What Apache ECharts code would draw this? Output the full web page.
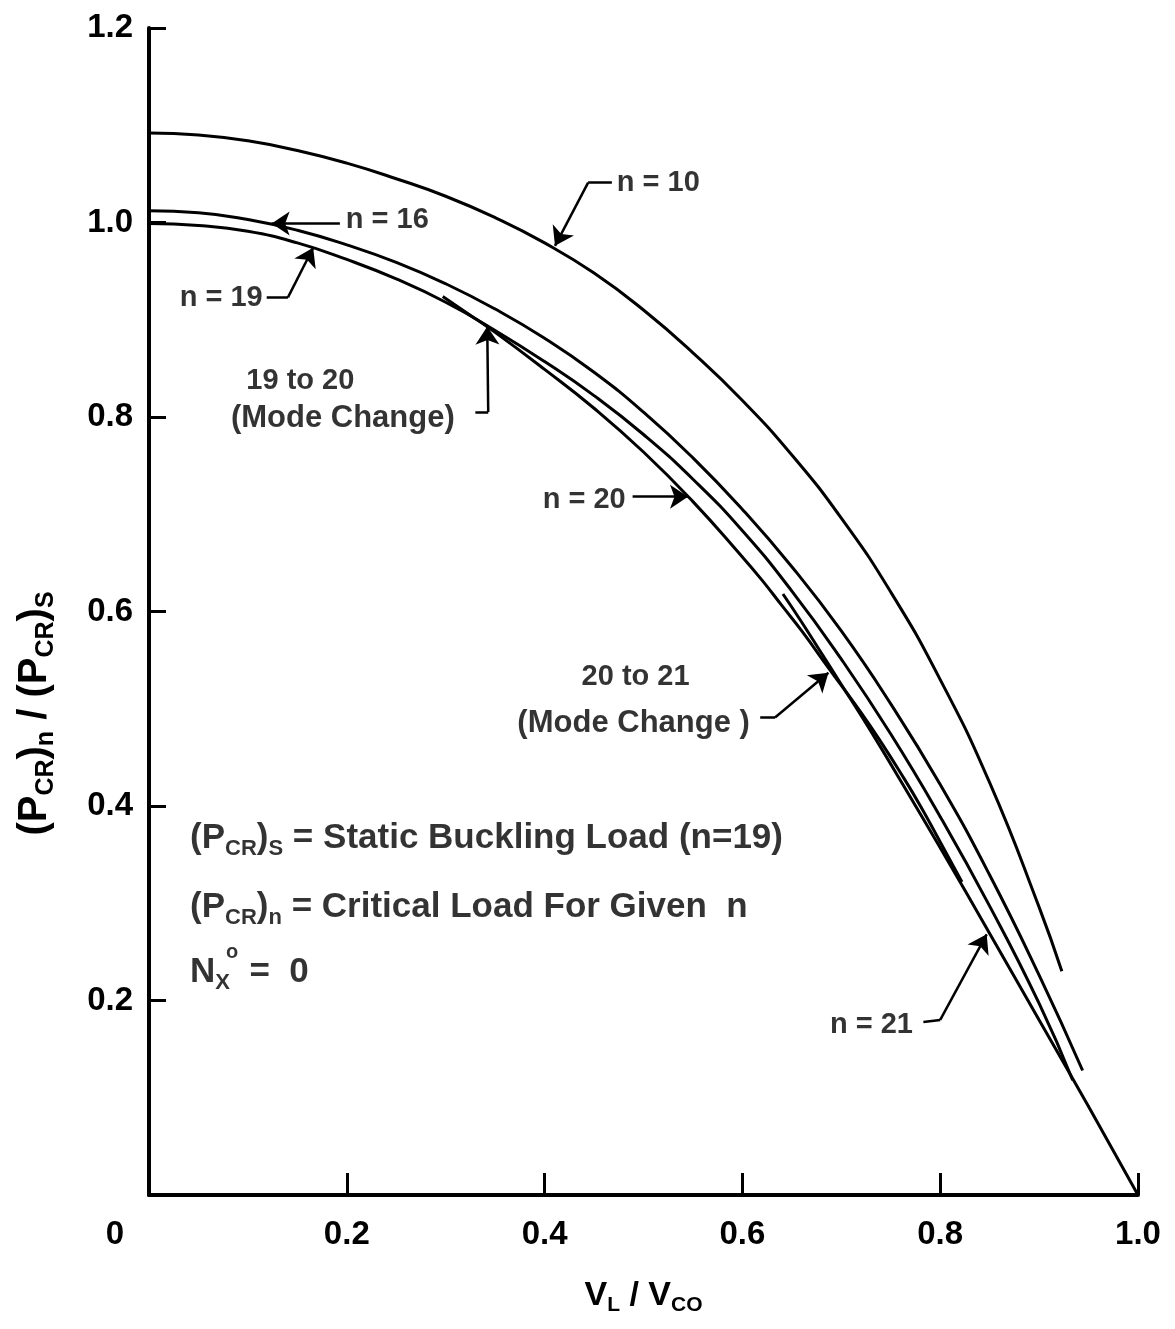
<!DOCTYPE html>
<html><head><meta charset="utf-8">
<script src="https://cdn.jsdelivr.net/npm/echarts@6/dist/echarts.min.js"></script>
<style>html,body{margin:0;padding:0;background:#fff}#c{width:1175px;height:1329px}</style>
</head><body><div id="c"></div>
<script>
// ---- data ----
const xN10 = [0,0.05,0.10,0.15,0.20,0.25,0.30,0.35,0.40,0.45,0.50,0.55,0.60,0.65,0.70,0.75,0.80,0.85,0.90,0.923];
const yN10 = [1.092,1.090,1.084,1.074,1.061,1.045,1.027,1.005,0.979,0.948,0.910,0.866,0.817,0.761,0.696,0.620,0.530,0.424,0.296,0.230];

const xN16 = [0,0.05,0.10,0.15,0.20,0.25,0.30,0.35,0.40,0.45,0.50,0.55,0.60,0.65,0.70,0.75,0.80,0.85,0.90,0.944];
const yN16 = [1.012,1.010,1.003,0.992,0.977,0.959,0.937,0.911,0.881,0.846,0.805,0.758,0.705,0.646,0.580,0.505,0.422,0.329,0.226,0.128];

const xN19 = [0,0.05,0.10,0.15,0.20,0.25,0.30,0.35,0.40,0.45,0.50,0.55,0.60,0.65,0.70,0.75,0.80,0.85,0.90,0.934];
const yN19 = [0.999,0.997,0.991,0.979,0.962,0.942,0.918,0.889,0.857,0.822,0.782,0.736,0.683,0.621,0.551,0.474,0.389,0.297,0.197,0.118];

const xN20 = [0.297,0.32,0.35,0.40,0.45,0.50,0.55,0.60,0.62,0.64,0.66,0.687,0.70,0.72,0.74,0.76,0.78,0.80,0.822];
const yN20 = [0.924,0.908,0.887,0.849,0.809,0.764,0.713,0.656,0.632,0.606,0.580,0.542,0.524,0.496,0.466,0.434,0.400,0.363,0.322];

const xN21 = [0.641,0.66,0.68,0.70,0.72,0.74,0.76,0.80,0.85,0.90,0.95,1.0];
const yN21 = [0.618,0.589,0.557,0.525,0.493,0.460,0.426,0.357,0.269,0.180,0.091,0.0];

const xTicks = [0, 0.2, 0.4, 0.6, 0.8, 1.0];
const yTicks = [0, 0.2, 0.4, 0.6, 0.8, 1.0, 1.2];

// annotation leaders (plain) and arrows (with head), in data units
const leaderSegs = [
  [[0.468,1.041],[0.444,1.041]],
  [[0.119,0.923],[0.1405,0.923]],
  [[0.330,0.805],[0.343,0.805]],
  [[0.618,0.491],[0.633,0.491]],
  [[0.783,0.178],[0.800,0.180]]
];
const arrowSegs = [
  [[0.444,1.041],[0.4105,0.976]],
  [[0.193,0.999],[0.124,0.999]],
  [[0.1405,0.923],[0.166,0.974]],
  [[0.343,0.805],[0.342,0.893]],
  [[0.489,0.718],[0.545,0.718]],
  [[0.633,0.491],[0.687,0.537]],
  [[0.800,0.180],[0.847,0.268]]
];

const annoText  = ['n = 10','n = 16','n = 19','19 to 20','(Mode Change)','n = 20','20 to 21','(Mode Change )','n = 21'];
const annoX     = [0.473, 0.199, 0.115, 0.153, 0.196, 0.482, 0.492, 0.490, 0.7725];
const annoY     = [1.041, 1.003, 0.922, 0.837, 0.799, 0.715, 0.533, 0.485, 0.175];
const annoAlign = ['left','left','right','center','center','right','center','center','right'];
const annoSize  = [29, 29, 29, 29, 31, 29, 29, 31, 29];

const noteText = ['(P{s|CR}){s|S} = Static Buckling Load (n=19)',
                  '(P{s|CR}){s|n} = Critical Load For Given  n',
                  'N{s|X}  =  0'];
const noteX = [0.0415, 0.0415, 0.0415];
const noteY = [0.367, 0.296, 0.229];
const supText = ['o'];
const supX = [0.084];
const supY = [0.249];

// ---- chart ----
const FONT = '"Liberation Sans", Arial, sans-serif';
const pairs = (xs, ys) => xs.map((v, i) => [v, ys[i]]);
const curve = (name, xs, ys) => ({
  name, type: 'line', data: pairs(xs, ys), symbol: 'none', smooth: 0.5,
  clip: false, lineStyle: {color: '#000', width: 3}, silent: true, z: 3
});
const SUB = {fontSize: 22, fontWeight: 'bold', fontFamily: FONT, color: '#000', padding: [22, 0, 0, 0]};

const chart = echarts.init(document.getElementById('c'), null, {renderer: 'canvas'});
chart.setOption({
  animation: false,
  backgroundColor: '#fff',
  grid: {left: 149, right: 37, top: 28, bottom: 134, containLabel: false},
  xAxis: {
    type: 'value', min: 0, max: 1.0, interval: 0.2,
    name: 'V{s|L} / V{s|CO}', nameLocation: 'middle', nameGap: 80,
    nameTextStyle: {fontSize: 34, fontWeight: 'bold', fontFamily: FONT, color: '#000',
      rich: {s: {fontSize: 21, fontWeight: 'bold', fontFamily: FONT, color: '#000', padding: [20, 0, 0, 0]}}},
    axisLine: {lineStyle: {color: '#000', width: 4}},
    axisTick: {inside: true, length: 22, lineStyle: {color: '#000', width: 3}},
    splitLine: {show: false},
    axisLabel: {
      fontSize: 33, fontWeight: 'bold', fontFamily: FONT, color: '#000', margin: 23,
      formatter: v => v === 0 ? '{z|0}' : v.toFixed(1),
      rich: {z: {fontSize: 33, fontWeight: 'bold', fontFamily: FONT, color: '#000', padding: [0, 68, 0, 0]}}
    }
  },
  yAxis: {
    type: 'value', min: 0, max: 1.2, interval: 0.2,
    name: '(P{s|CR}){s|n} / (P{s|CR}){s|S}', nameLocation: 'middle', nameGap: 90,
    nameTextStyle: {fontSize: 40, fontWeight: 'bold', fontFamily: FONT, color: '#000',
      padding: [0, 204, 0, 0],
      rich: {s: {fontSize: 25, fontWeight: 'bold', fontFamily: FONT, color: '#000', padding: [24, 0, 0, 0]}}},
    axisLine: {lineStyle: {color: '#000', width: 4}},
    axisTick: {inside: true, length: 17, lineStyle: {color: '#000', width: 3}},
    splitLine: {show: false},
    axisLabel: {
      fontSize: 33, fontWeight: 'bold', fontFamily: FONT, color: '#000', margin: 16,
      formatter: v => v === 0 ? '' : v.toFixed(1)
    }
  },
  series: [
    curve('n=10', xN10, yN10),
    curve('n=16', xN16, yN16),
    curve('n=19', xN19, yN19),
    curve('n=20', xN20, yN20),
    curve('n=21', xN21, yN21),
    {
      type: 'lines', coordinateSystem: 'cartesian2d', polyline: false, silent: true, z: 4,
      symbol: ['none', 'none'],
      lineStyle: {color: '#000', width: 2.5, opacity: 1, curveness: 0},
      data: leaderSegs.map(s => ({coords: s}))
    },
    {
      type: 'lines', coordinateSystem: 'cartesian2d', polyline: false, silent: true, z: 4,
      symbol: ['none', 'arrow'], symbolSize: 18,
      lineStyle: {color: '#000', width: 2.5, opacity: 1, curveness: 0},
      itemStyle: {color: '#000'},
      data: arrowSegs.map(s => ({coords: s}))
    },
    {
      type: 'scatter', symbolSize: 0, silent: true, clip: false, z: 5,
      label: {show: true, position: 'inside', color: '#000', fontWeight: 'bold', fontFamily: FONT, verticalAlign: 'middle'},
      data: annoText.map((t, i) => ({
        value: [annoX[i], annoY[i]],
        label: {formatter: t, align: annoAlign[i], fontSize: annoSize[i]}
      }))
    },
    {
      type: 'scatter', symbolSize: 0, silent: true, clip: false, z: 5,
      label: {show: true, position: 'inside', color: '#000', fontWeight: 'bold', fontFamily: FONT,
        fontSize: 35, align: 'left', verticalAlign: 'middle', rich: {s: SUB}},
      data: noteText.map((t, i) => ({value: [noteX[i], noteY[i]], label: {formatter: t}}))
    },
    {
      type: 'scatter', symbolSize: 0, silent: true, clip: false, z: 5,
      label: {show: true, position: 'inside', color: '#000', fontWeight: 'bold', fontFamily: FONT,
        fontSize: 20, align: 'center', verticalAlign: 'middle'},
      data: supText.map((t, i) => ({value: [supX[i], supY[i]], label: {formatter: t}}))
    }
  ]
});
</script></body></html>
